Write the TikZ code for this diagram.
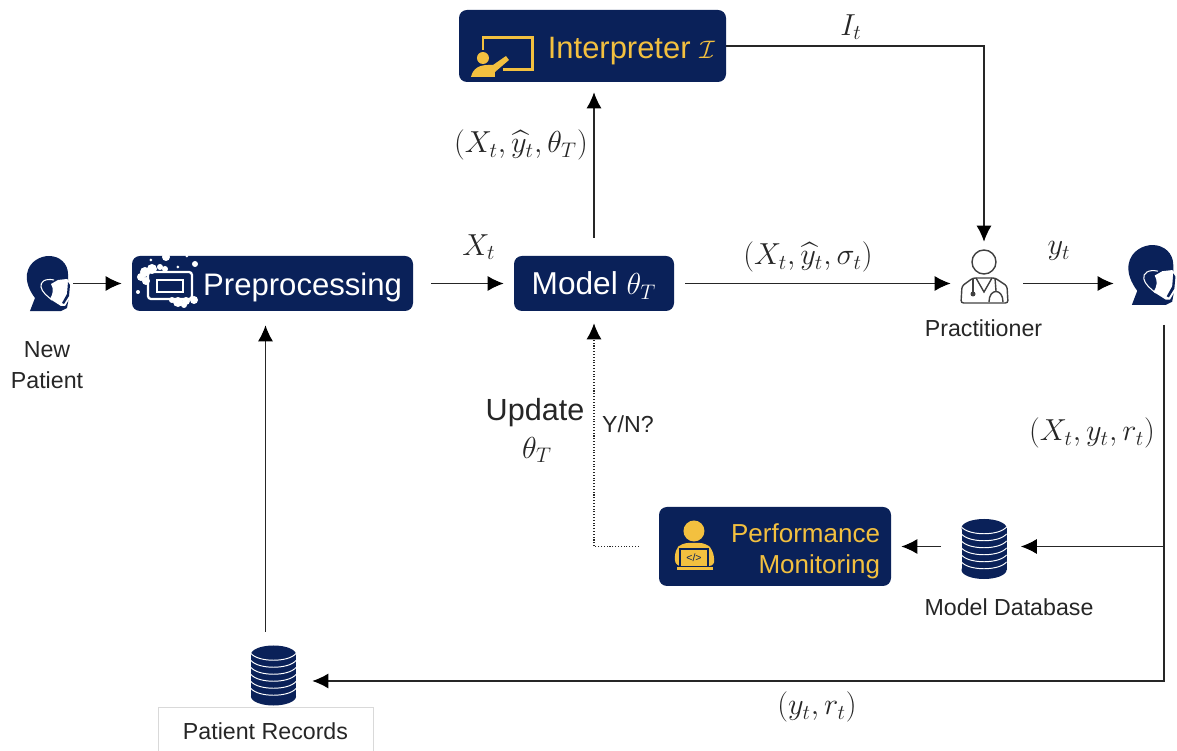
\documentclass[tikz,border=0pt]{standalone}
\usepackage{amsmath}
\usepackage{fontspec}
\setmainfont{Liberation Sans}
\usetikzlibrary{arrows.meta}
\definecolor{navy}{HTML}{0A2159}
\definecolor{gold}{HTML}{F3C03F}
\tikzset{
  block/.style={fill=navy, rounded corners=0.16cm, align=right, inner xsep=0.22cm, inner ysep=0pt},
  caption/.style={font=\fontsize{13.2}{16}\selectfont, text=black!85, align=center},
  mathlabel/.style={font=\fontsize{17.4}{20}\selectfont, text=black!85},
  icon/.style={minimum width=#1, minimum height=#1, inner sep=0pt},
  flow/.style={-{Latex[length=3.2mm,width=3mm,black]}, line width=0.6pt, black!85, shorten <=0.36cm, shorten >=0.2cm},
  maskhead/.pic={
    \begin{scope}[x=0.02cm,y=-0.02cm,shift={(-21.5,-27.5)}]
      \fill[navy] (3,55) -- (8,42) .. controls (2,34) and (-1,26) .. (0,18)
        .. controls (2,5) and (14,0) .. (22,0) .. controls (33,0) and (41,8) .. (41,18)
        -- (41,24) -- (44,30) -- (40,52) -- (34,55) -- cycle;
      \fill[white] (24,28) -- (31,24) -- (40,23) -- (45,28) -- (44,40) -- (38,50) -- (34,50) -- (23,43) .. controls (26,38) and (27,33) .. (24,28);
      \fill[navy] (41,26) -- (43,29) -- (42,40) -- (37,48) -- (35,47) -- (40,38) -- cycle;
      \draw[white, line width=0.6pt] (27,24) .. controls (18,22) and (13,26) .. (14,31) .. controls (15,36) and (20,40) .. (25,44);
    \end{scope}
  },
  dbstack/.pic={
    \begin{scope}[x=0.02cm,y=-0.02cm]
      \fill[navy] (-22.5,-21) rectangle (22.5,21);
      \fill[navy] (0,-21) ellipse[x radius=22.5, y radius=9];
      \fill[navy] (0,21) ellipse[x radius=22.5, y radius=9];
      \foreach \h in {-18,-11,-4,3,10,17}
        \draw[white, line width=0.55pt] (-22.5,\h-4) .. controls (-15,\h+5) and (15,\h+5) .. (22.5,\h-4);
    \end{scope}
  },
}
\begin{document}
\begin{tikzpicture}
  \useasboundingbox (0,0) rectangle (23.54,-15.02);
  % boxes
  \node[block, minimum width=5.62cm, minimum height=1.1cm, text width=5.18cm, text=white, text height=17.5pt, text depth=3.6pt, font=\fontsize{17.7}{21}\selectfont] (prep) at (5.45,-5.67) {Preprocessing};
  \node[block, minimum width=3.2cm, minimum height=1.1cm, align=center, text=white, text height=16.5pt, text depth=3.6pt, font=\fontsize{18}{21}\selectfont] (model) at (11.88,-5.67) {Model $\theta_T$};
  \node[block, minimum width=5.34cm, minimum height=1.44cm, text width=4.9cm, text=gold, text height=18pt, text depth=3.6pt, font=\fontsize{17.6}{21}\selectfont] (interp) at (11.85,-0.92) {Interpreter\hspace{5pt}{\fontsize{14}{17}\selectfont$\mathcal{I}$}};
  \node[block, minimum width=4.6cm, minimum height=1.58cm, text width=4.2cm, text=gold, text height=16.2pt, font=\fontsize{14.8}{18.1}\selectfont] (perf) at (15.5,-10.93) {Performance\\Monitoring};
  % icons
  \node[icon=0.98cm] (newpat) at (0.97,-5.67) {};
  \pic at (newpat) {maskhead};
  \node[icon=1.2cm] (retpat) at (23.04,-5.5) {};
  \pic[scale=1.09] at (retpat) {maskhead};
  \node[icon=1cm] (pract) at (19.68,-5.54) {};
  \node[icon=1.22cm] (mdb) at (19.68,-10.98) {};
  \pic at (mdb) {dbstack};
  \node[icon=1.22cm] (pdb) at (5.47,-13.51) {};
  \pic at (pdb) {dbstack};
  % practitioner
  \begin{scope}[x=0.02cm,y=-0.02cm,shift={(pract.center)},shift={(-983,-277)},draw=black!75,line width=0.8pt]
    \draw (983,262) circle[radius=12];
    \draw[rounded corners=0.05cm] (960,303) -- (961,286) -- (972,278) -- (994,278) -- (1006,286) -- (1007,303) -- cycle;
    \draw (975,278) -- (983,292) -- (991,278);
    \draw (972,278) -- (972,293);
    \fill[black!75] (972,294) circle[radius=2.5];
    \draw (994,278) -- (995,291);
    \draw (988,302) .. controls (988,288) and (1002,288) .. (1002,302);
  \end{scope}
  % interpreter icon
  \begin{scope}[x=0.02cm,y=-0.02cm,shift={(interp.center)},shift={(-592.5,-46)},gold,line width=1.4pt]
    \draw (483,50) -- (483,37.5) -- (532.5,37.5) -- (532.5,69.5) -- (503,69.5);
    \fill (483,58) circle[radius=6];
    \fill (471,77) .. controls (473,68) and (480,65) .. (488,65) -- (493,65) -- (506,56) -- (509,60) -- (495,72) -- (495,77) -- cycle;
  \end{scope}
  % preprocessing icon
  \begin{scope}[x=0.02cm,y=-0.02cm,shift={(prep.center)},shift={(-272.5,-283.5)},white]
    \draw[line width=1.3pt, rounded corners=0.06cm] (148,272) rectangle (192,299);
    \draw[line width=0.6pt] (157,280) rectangle (183,292);
    \foreach \bx/\by/\br in {166/257/4, 195/264/3, 151/260/1.5, 187/256/1.5, 178/267/1.5, 138/292/2,
      145/272/5, 152/269/5, 141/277/4, 146/281/4, 160/267/3, 165/269/3,
      178/302/5, 186/301/4, 194/300/4, 172/300/3, 184/305/3}
      \fill (\bx,\by) circle[radius=\br];
  \end{scope}
  % performance icon
  \begin{scope}[x=0.02cm,y=-0.02cm,shift={(perf.center)},shift={(-775,-546.5)}]
    \fill[gold] (694,531) circle[radius=10.5];
    \fill[gold, rounded corners=0.12cm] (675,566) -- (675,550) -- (682,543) -- (706,543) -- (713,550) -- (715,566) -- cycle;
    \draw[navy, line width=0.7pt] (680,566) -- (680,549) -- (708,549) -- (708,566);
    \fill[gold] (677,567) rectangle (713,570);
    \node[text=navy, font=\fontsize{6}{7}\selectfont, inner sep=0pt] (code) at (694,558) {</>};
  \end{scope}
  % record box
  \node[draw=black!15, line width=0.4pt, minimum width=4.3cm, minimum height=0.96cm, caption] (rec) at (5.31,-14.62) {Patient Records};
  % captions
  \node[caption] (newcap) at (0.94,-7.3) {New\\[1.6pt]Patient};
  \node[caption] (praccap) at (19.67,-6.56) {Practitioner};
  \node[caption] (mdbcap) at (20.18,-12.14) {Model Database};
  \node[caption] (yn) at (12.56,-8.48) {Y/N?};
  \node[font=\fontsize{17.4}{21}\selectfont, text=black!85, align=center] (upd) at (10.7,-8.26) {Update};
  \node[mathlabel] (updtheta) at (10.74,-9) {$\theta_T$};
  % flows
  \draw[flow, shorten <=0pt] (newpat) -- (prep);
  \draw[flow] (prep) -- (model);
  \draw[flow] (model.north) -- (model.north |- interp.south);
  \draw[flow, shorten <=0.22cm, shorten >=0.16cm] (model) -- (pract.west |- model.east);
  \draw[flow, shorten <=0pt] (interp.east) -| (pract.north);
  \draw[flow, shorten <=0.28cm, shorten >=0.16cm] (pract.east |- model.east) -- (retpat.west |- model.east);
  \coordinate (trunk) at (23.28,-6.5);
  \coordinate (corner) at (23.28,-13.62);
  \draw[flow, shorten <=0pt, shorten >=0.12cm] (trunk) -- (trunk |- perf.east) -- (perf.east -| mdb.east);
  \draw[flow, shorten <=0pt, shorten >=0.16cm] (trunk) -- (corner) -- (corner -| pdb.east);
  \draw[flow, shorten <=0.24cm] (perf.east -| mdb.west) -- (perf.east);
  \draw[flow, densely dotted, shorten <=0.4cm, shorten >=0.24cm] (perf.west) -- (perf.west -| model.south) -- (model.south);
  \draw[flow, shorten <=0.26cm, shorten >=0.28cm] ([xshift=-0.16cm]pdb.north) -- ([xshift=-0.16cm]pdb.north |- prep.south);
  % flow labels
  \node[mathlabel] (lbi) at (17.02,-0.54) {$I_t$};
  \node[mathlabel] (lbx) at (9.58,-4.94) {$X_t$};
  \node[mathlabel] (lbxy) at (10.42,-2.9) {$(X_t,\widehat{y}_t,\theta_T)$};
  \node[mathlabel] (lbxs) at (16.16,-5.14) {$(X_t,\widehat{y}_t,\sigma_t)$};
  \node[mathlabel] (lby) at (21.18,-5.02) {$y_t$};
  \node[mathlabel] (lbxr) at (21.84,-8.66) {$(X_t,y_t,r_t)$};
  \node[mathlabel] (lbyr) at (16.34,-14.14) {$(y_t,r_t)$};
\end{tikzpicture}
\end{document}
